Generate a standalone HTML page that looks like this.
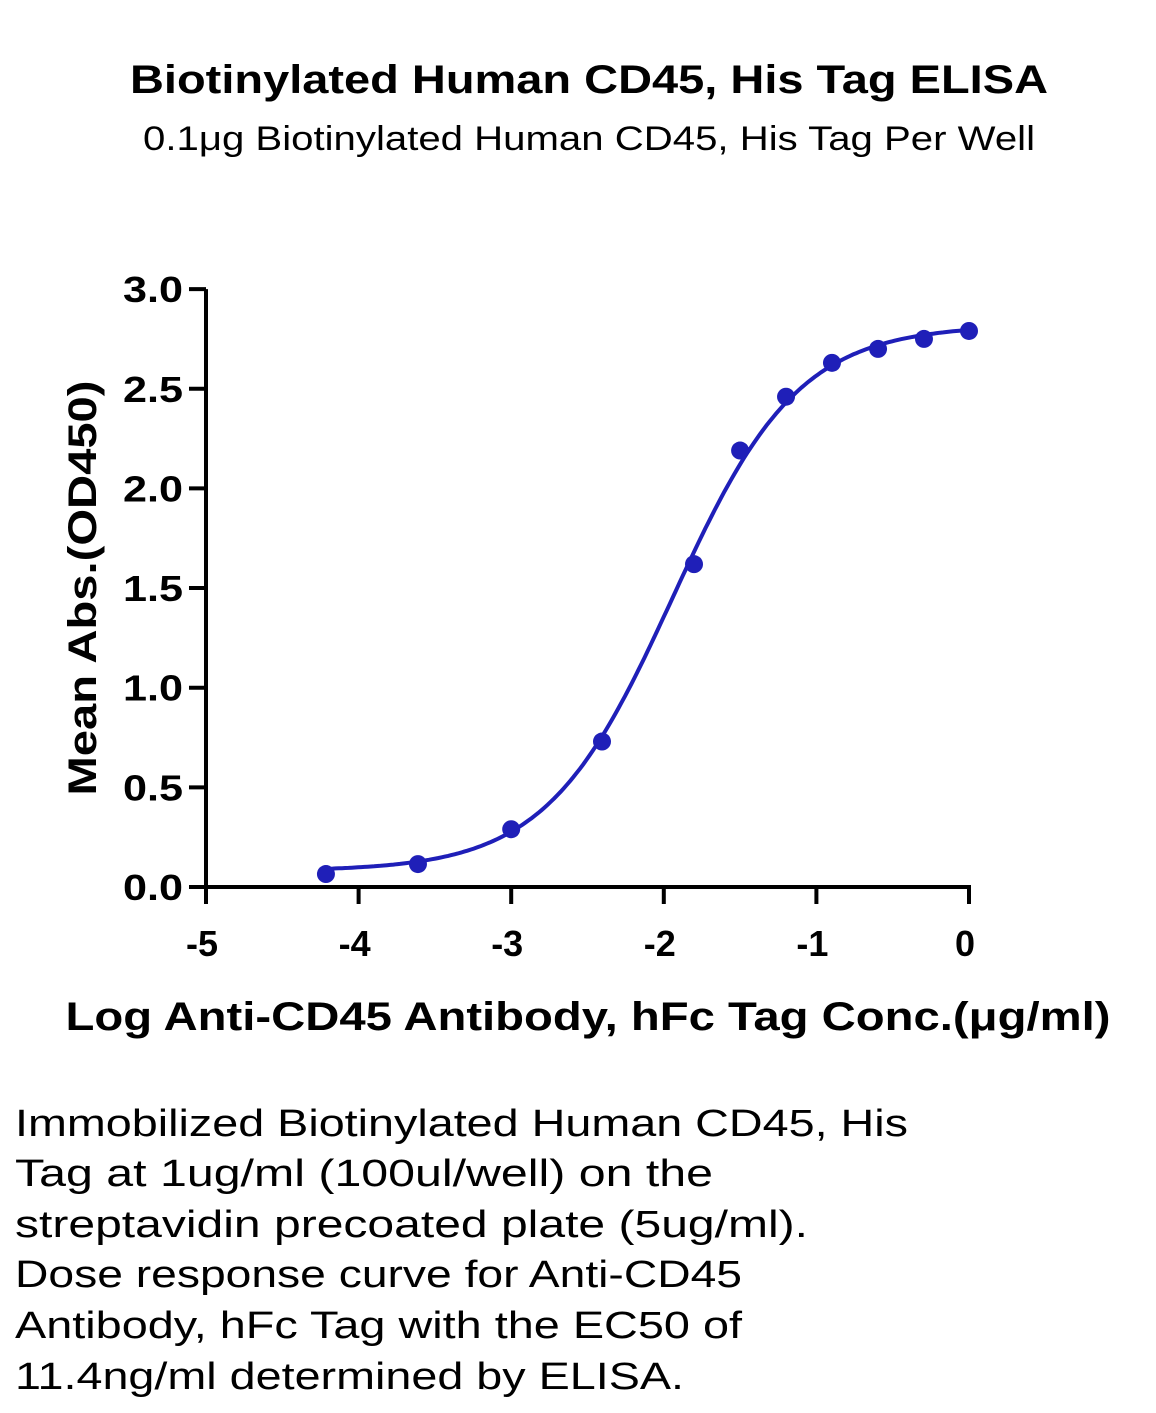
<!DOCTYPE html>
<html><head><meta charset="utf-8"><style>body{margin:0;background:#fff}svg{display:block}text{font-family:"Liberation Sans",sans-serif}</style></head>
<body>
<svg width="1156" height="1413" viewBox="0 0 1156 1413">
<text x="589" y="93" text-anchor="middle" font-size="40" font-weight="bold" textLength="918" lengthAdjust="spacingAndGlyphs">Biotinylated Human CD45, His Tag ELISA</text>
<text x="589" y="150" text-anchor="middle" font-size="34" textLength="892" lengthAdjust="spacingAndGlyphs">0.1μg Biotinylated Human CD45, His Tag Per Well</text>
<g id="axes"></g>
<g id="marks"></g>
<text x="588" y="1030" text-anchor="middle" font-size="40" font-weight="bold" textLength="1045" lengthAdjust="spacingAndGlyphs">Log Anti-CD45 Antibody, hFc Tag Conc.(μg/ml)</text>
<text transform="translate(96,588) rotate(-90)" text-anchor="middle" font-size="40" font-weight="bold" textLength="415" lengthAdjust="spacingAndGlyphs">Mean Abs.(OD450)</text>
<g font-size="38">
<text x="15" y="1136" textLength="893" lengthAdjust="spacingAndGlyphs">Immobilized Biotinylated Human CD45, His</text>
<text x="15" y="1186" textLength="698" lengthAdjust="spacingAndGlyphs">Tag at 1ug/ml (100ul/well) on the</text>
<text x="15" y="1237" textLength="793" lengthAdjust="spacingAndGlyphs">streptavidin precoated plate (5ug/ml).</text>
<text x="15" y="1287" textLength="727" lengthAdjust="spacingAndGlyphs">Dose response curve for Anti-CD45</text>
<text x="15" y="1338" textLength="727" lengthAdjust="spacingAndGlyphs">Antibody, hFc Tag with the EC50 of</text>
<text x="15" y="1389" textLength="669" lengthAdjust="spacingAndGlyphs">11.4ng/ml determined by ELISA.</text>
</g>
</svg>
<script>
const logConc=[-4.214,-3.611,-3.0,-2.405,-1.802,-1.5,-1.199,-0.898,-0.596,-0.295,0];
const od=[0.065,0.115,0.29,0.73,1.62,2.19,2.46,2.63,2.70,2.75,2.79];
const xTicks=[-5,-4,-3,-2,-1,0];
const yTicks=[0,0.5,1.0,1.5,2.0,2.5,3.0];
const fitParams=[0.08,2.82,-1.943,1.05]; // bottom, top, logEC50, hill
const NS='http://www.w3.org/2000/svg';
const X=v=>206+(v+5)*152.6;
const Y=v=>887-v*199.3;
function mk(t,a,p){const e=document.createElementNS(NS,t);for(const k in a)e.setAttribute(k,a[k]);p.appendChild(e);return e;}
const ax=document.getElementById('axes'),mg=document.getElementById('marks');
let l=mk('line',{x1:206,y1:Y(3),x2:206,y2:889,stroke:'#000','stroke-width':4},ax);


l=mk('line',{x1:204,y1:887,x2:971,y2:887,stroke:'#000','stroke-width':4},ax);


yTicks.forEach(v=>{
 const t=mk('line',{x1:189,y1:Y(v),x2:206,y2:Y(v),stroke:'#000','stroke-width':4},ax);
 
 
 const s=mk('text',{x:183,y:Y(v)+13,'text-anchor':'end','font-size':36,'font-weight':'bold',textLength:60,lengthAdjust:'spacingAndGlyphs'},ax);
 s.textContent=v.toFixed(1);
 
 
});
xTicks.forEach(v=>{
 const t=mk('line',{x1:X(v),y1:887,x2:X(v),y2:904,stroke:'#000','stroke-width':4},ax);
 
 
 const s=mk('text',{x:X(v)-4,y:956,'text-anchor':'middle','font-size':36,'font-weight':'bold'},ax);
 s.textContent=v;
 
 
});
const [b,tp,ec,h]=fitParams;
let d='';
for(let i=0;i<=200;i++){const x=logConc[0]+(logConc[logConc.length-1]-logConc[0])*i/200;
 const y=b+(tp-b)/(1+Math.pow(10,(ec-x)*h));d+=(i?'L':'M')+X(x).toFixed(1)+','+Y(y).toFixed(1);}
const c=mk('path',{d:d,fill:'none',stroke:'#1f1fb8','stroke-width':4},mg);


logConc.forEach((x,i)=>{
 const p=mk('circle',{cx:X(x),cy:Y(od[i]),r:9,fill:'#1f1fb8'},mg);
 
 
});
</script>
</body></html>
